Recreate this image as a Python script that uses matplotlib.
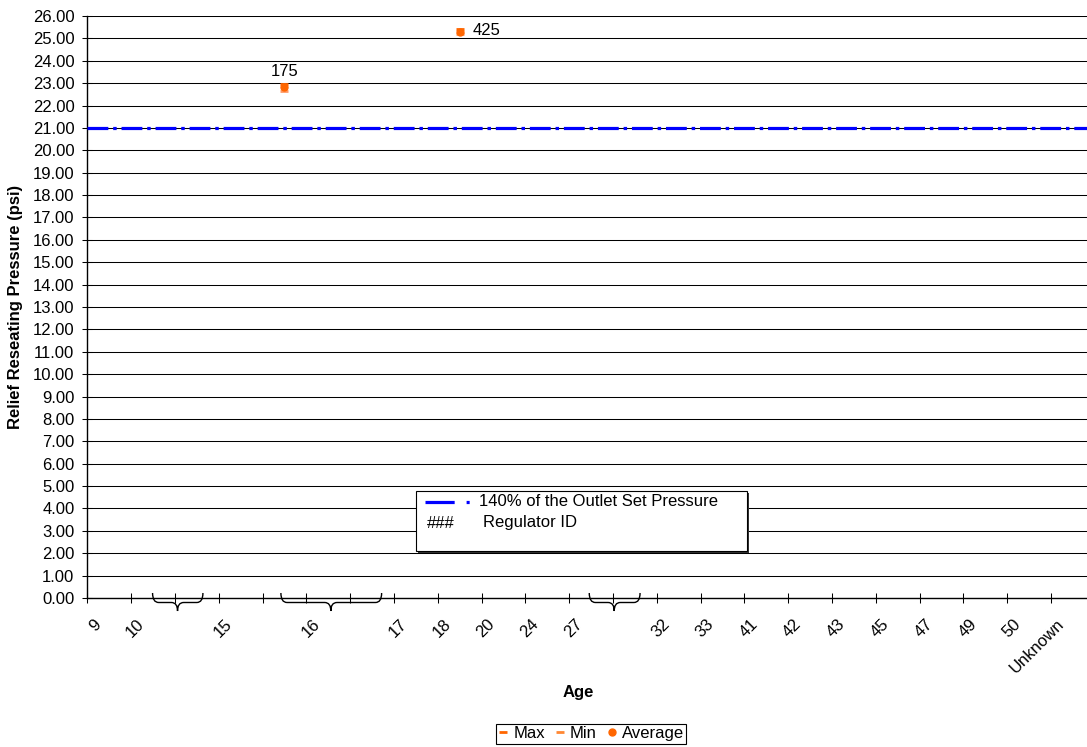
import matplotlib
matplotlib.use('Agg')
import matplotlib.pyplot as plt
from matplotlib.lines import Line2D
from matplotlib.patches import Rectangle, PathPatch
from matplotlib.path import Path
from matplotlib.transforms import blended_transform_factory

plt.rcParams['font.family'] = ['Liberation Sans', 'DejaVu Sans']
plt.rcParams['lines.scale_dashes'] = False

# Dados
age_labels = ['9', '10', '', '15', '', '16', '', '17', '18', '20', '24', '27', '',
              '32', '33', '41', '42', '43', '45', '47', '49', '50', 'Unknown']
regulator_ids = ['175', '425']
regulator_slot = [4, 8]
max_values = [22.95, 25.40]
min_values = [22.65, 25.20]
avg_values = [22.85, 25.30]
limit_140 = 21.0

# Chaves (colchetes) sob o eixo x: (início, fim, ponta) em unidades de categoria
braces = [(1.49, 2.64, 2.06), (4.42, 6.72, 5.56), (11.46, 12.62, 12.03)]

W, H = 1087, 747
fig = plt.figure(figsize=(W / 100, H / 100), dpi=100)

# área do gráfico em pixels
left, top, bottom, step = 87.3, 16, 598, 43.8
n_slots = len(age_labels)
ax = fig.add_axes([left / W, 1 - bottom / H, n_slots * step / W, (bottom - top) / H])
ax.set_xlim(0, n_slots)
ax.set_ylim(0, 26)

ax.set_yticks(range(0, 27))
ax.set_yticklabels(['%.2f' % v for v in range(0, 27)])
ax.yaxis.grid(True, color='black', lw=0.75)
ax.set_axisbelow(True)

ax.set_xticks(range(0, n_slots))
ax.set_xticklabels([])
ax.set_xticks([k + 0.37 for k in range(n_slots)], minor=True)
ax.set_xticklabels(age_labels, minor=True, rotation=45, ha='right')

ax.tick_params(axis='y', direction='inout', length=6.5, width=0.75, pad=6, labelsize=12)
ax.tick_params(axis='x', which='major', direction='inout', length=7, width=0.75)
ax.tick_params(axis='x', which='minor', length=0, pad=13.5, labelsize=12)

for s in ['top', 'right']:
    ax.spines[s].set_visible(False)
for s in ['left', 'bottom']:
    ax.spines[s].set_linewidth(1)
    ax.spines[s].set_color('black')

# Linha de 140% da pressão de ajuste
ax.axhline(limit_140, color='#0000FF', lw=2.3, dashes=(15, 3.5, 2.5, 3.5), zorder=3)

# Pontos por regulador
x_pts = [s + 0.5 for s in regulator_slot]
ax.plot(x_pts, min_values, ls='none', marker='_', ms=6, mew=2, color='#FF9966', zorder=4)
ax.plot(x_pts, max_values, ls='none', marker='_', ms=6, mew=2, color='#FF6600', zorder=4)
ax.plot(x_pts, avg_values, ls='none', marker='o', ms=5, color='#FF6600', zorder=5)

ax.annotate(regulator_ids[0], (x_pts[0], avg_values[0]), xytext=(0, 11),
            textcoords='offset points', ha='center', va='center', fontsize=12)
ax.annotate(regulator_ids[1], (x_pts[1], avg_values[1]), xytext=(9.5, 1),
            textcoords='offset points', ha='left', va='center', fontsize=12)

ax.set_ylabel('Relief Reseating Pressure (psi)', fontsize=12, fontweight='bold', labelpad=7)
fig.text(578 / W, 1 - 692 / H, 'Age', fontsize=12, fontweight='bold', ha='center', va='center')

# Chaves desenhadas abaixo do eixo
tr = blended_transform_factory(ax.transData, ax.transAxes)
ah = bottom - top
y_top, y_flat, y_tip = 5 / ah, -4.5 / ah, -13 / ah
r = 0.14
for x0, x1, xc in braces:
    verts = [(x0, y_top), (x0, y_flat), (x0 + r, y_flat),
             (xc - r, y_flat), (xc, y_flat), (xc, y_tip),
             (xc, y_flat), (xc + r, y_flat),
             (x1 - r, y_flat), (x1, y_flat), (x1, y_top)]
    codes = [Path.MOVETO, Path.CURVE3, Path.CURVE3,
             Path.LINETO, Path.CURVE3, Path.CURVE3,
             Path.CURVE3, Path.CURVE3,
             Path.LINETO, Path.CURVE3, Path.CURVE3]
    ax.add_patch(PathPatch(Path(verts, codes), transform=tr, fill=False,
                           lw=1, ec='black', clip_on=False))


# Legenda interna (desenhada à mão)
def fx(x):
    return x / W


def fy(y):
    return 1 - y / H


fig.patches.append(Rectangle((fx(418), fy(553)), fx(747) - fx(416), fy(491) - fy(551),
                             transform=fig.transFigure, fc='#333333', ec='none', zorder=6))
fig.patches.append(Rectangle((fx(416), fy(551)), fx(747) - fx(416), fy(491) - fy(551),
                             transform=fig.transFigure, fc='white', ec='black', lw=0.8, zorder=7))
fig.lines.append(Line2D([fx(425), fx(470)], [fy(502), fy(502)], transform=fig.transFigure,
                        color='#0000FF', lw=2.3, dashes=(21, 8.6, 2.2, 9), zorder=8))
fig.text(fx(479), fy(502), '140% of the Outlet Set Pressure', fontsize=12, va='center', zorder=8)
fig.text(fx(427), fy(523), '###', fontsize=12, va='center', zorder=8)
fig.text(fx(483), fy(523), 'Regulator ID', fontsize=12, va='center', zorder=8)

# Legenda inferior
handles = [Line2D([], [], ls='none', marker='_', ms=6, mew=2, color='#FF6600'),
           Line2D([], [], ls='none', marker='_', ms=6, mew=2, color='#FF8833'),
           Line2D([], [], ls='none', marker='o', ms=5, color='#FF6600')]
leg = fig.legend(handles, ['Max', 'Min', 'Average'], loc='center',
                 bbox_to_anchor=(fx(591), fy(733.5)), ncol=3, fontsize=12,
                 frameon=True, fancybox=False, edgecolor='black', framealpha=1,
                 handlelength=0.6, handletextpad=0.3, columnspacing=0.6,
                 borderpad=0.15, borderaxespad=0)
leg.get_frame().set_linewidth(0.8)

fig.savefig('out.png', dpi=100)
